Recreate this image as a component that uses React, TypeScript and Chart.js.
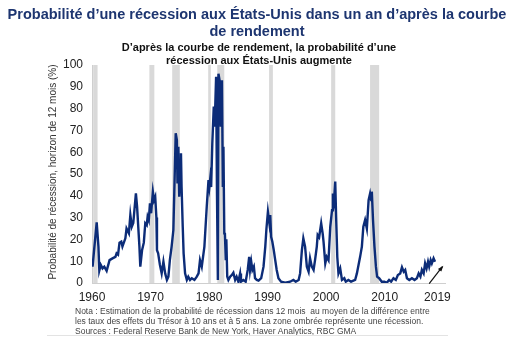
import React, { useEffect, useRef } from "react";
import { Chart, registerables } from "chart.js";

Chart.register(...registerables);

// ---- Data ----
const YEARS = [
  1960.0, 1960.1, 1960.2, 1960.8, 1961.1, 1961.25, 1961.5, 1961.8, 1962.1, 1962.5,
  1963.0, 1963.5, 1964.0, 1964.2, 1964.45, 1964.7, 1965.0, 1965.2, 1965.7, 1965.9,
  1966.3, 1966.55, 1966.8, 1967.05, 1967.5, 1967.7, 1967.85, 1968.1, 1968.25, 1968.55,
  1968.85, 1969.1, 1969.35, 1969.5, 1969.7, 1969.9, 1970.1, 1970.4, 1970.6, 1970.8,
  1971.0, 1971.1, 1971.3, 1971.6, 1971.9, 1972.2, 1972.5, 1972.8, 1973.05, 1973.3,
  1973.6, 1973.9, 1974.05, 1974.3, 1974.5, 1974.6, 1974.75, 1974.9, 1975.05, 1975.2,
  1975.3, 1975.5, 1975.65, 1975.9, 1976.2, 1976.45, 1976.75, 1977.05, 1977.5, 1977.9,
  1978.2, 1978.45, 1978.75, 1979.2, 1979.6, 1979.9, 1980.05, 1980.2, 1980.35, 1980.55,
  1980.8, 1980.95, 1981.2, 1981.35, 1981.5, 1981.6, 1981.8, 1982.0, 1982.2, 1982.35,
  1982.45, 1982.6, 1982.7, 1982.85, 1982.95, 1983.1, 1983.3, 1983.6, 1983.9, 1984.15,
  1984.45, 1984.7, 1985.0, 1985.3, 1985.45, 1985.85, 1986.25, 1986.6, 1986.85, 1987.0,
  1987.2, 1987.4, 1987.65, 1987.85, 1988.15, 1988.45, 1988.9, 1989.3, 1989.6, 1989.8,
  1990.05, 1990.3, 1990.45, 1990.6, 1990.8, 1991.05, 1991.3, 1991.55, 1991.85, 1992.3,
  1993.0, 1993.85, 1994.4, 1994.8, 1995.3, 1995.55, 1995.85, 1996.1, 1996.4, 1996.7,
  1997.0, 1997.25, 1997.55, 1997.85, 1998.1, 1998.4, 1998.55, 1998.8, 1999.15, 1999.4,
  1999.55, 1999.85, 2000.1, 2000.4, 2000.7, 2001.0, 2001.15, 2001.35, 2001.55, 2001.7,
  2001.9, 2002.1, 2002.4, 2002.7, 2003.1, 2003.35, 2003.8, 2004.25, 2004.95, 2005.25,
  2005.8, 2006.1, 2006.35, 2006.65, 2006.95, 2007.25, 2007.5, 2007.7, 2007.8, 2008.0,
  2008.25, 2008.5, 2008.7, 2009.05, 2009.5, 2009.95, 2010.35, 2010.75, 2011.1, 2011.5,
  2011.9, 2012.25, 2012.65, 2012.95, 2013.25, 2013.5, 2013.8, 2014.2, 2014.65, 2015.1,
  2015.5, 2015.8, 2016.1, 2016.35, 2016.65, 2016.9, 2017.15, 2017.4, 2017.6, 2017.85,
  2018.05, 2018.35, 2018.6,
];

const PROBABILITY = [
  10.5, 7.5, 10.5, 27.8, 16.7, 5.7, 8.3, 6.7, 7.5, 5.6,
  10.5, 11.3, 12, 13.6, 13, 18.5, 19, 16.7, 20.5, 25,
  22.8, 31.2, 25.8, 27.5, 41.1, 35, 35, 16.7, 7.5, 15,
  18.5, 27.4, 26.6, 30.4, 28.8, 36.5, 32, 41.9, 38, 39.5,
  30, 15, 13.6, 8.3, 4.4, 9.8, 4.4, 1.4, 2.9, 10.5,
  16.7, 24.3, 41, 68.7, 65.6, 45.7, 62.5, 39.6, 51.8, 59.5,
  44.2, 25.8, 13.6, 4.4, 1.4, 2.9, 1.4, 2.2, 1.4, 2.9,
  4.4, 10.5, 7.5, 16.7, 35, 47.2, 44, 48, 44, 64,
  80.9, 71.7, 94.6, 41, 1.4, 96, 93, 71.7, 93, 44,
  62.5, 22.8, 23, 10.5, 20, 3, 1.4, 2.9, 3.7, 4.7,
  1.4, 2.9, 0.6, 4.4, 0.6, 1.4, 0.6, 6, 12, 6,
  9.8, 6, 7.5, 2.2, 1.4, 1.1, 2.2, 7.5, 16.7, 25,
  32.7, 27.4, 31.2, 21.2, 19, 15.1, 10.5, 6, 2.2, 0.6,
  0.2, 0.6, 1.4, 0.6, 1.4, 4.4, 15, 20.5, 16.7, 7.5,
  5.2, 11.3, 7.5, 6, 10.5, 16.7, 22, 21, 27.4, 22.8,
  19, 9, 12, 10.5, 25.8, 33.4, 41, 38, 46.5, 30.4,
  12, 4.4, 6.7, 1.4, 2.2, 0.6, 1.4, 0.6, 1.4, 4.4,
  12, 16.7, 25.8, 28.9, 25, 38, 41, 38, 41.9, 29,
  16.7, 7.5, 2.9, 2.2, 0.6, 0.6, 0.1, 1.4, 0.6, 2.2,
  1.4, 3.7, 4.4, 7.2, 5.2, 6, 2.2, 1.4, 2.2, 1.4,
  2.2, 4.4, 2.9, 6, 4.4, 9, 6.7, 9.8, 7.5, 10.5,
  9, 11.3, 9.8,
];

// Recession periods (shaded)
const RECESSION_START = [1960.2, 1969.8, 1973.7, 1979.85, 1981.4, 1990.25, 2000.85, 2007.5];
const RECESSION_END = [1960.95, 1970.65, 1975.0, 1980.3, 1982.6, 1990.9, 2001.55, 2009.05];

const X_TICKS = [1960, 1970, 1980, 1990, 2000, 2010, 2019];
const X_MIN = 1960;
const X_MAX = 2020.3;
const Y_MIN = 0;
const Y_MAX = 100;
const Y_STEP = 10;

// Arrow annotation (data coordinates: [year, value])
const ARROW_FROM = [2017.6, -0.3];
const ARROW_TO = [2019.85, 7.5];

const TITLE_LINES = [
  "Probabilité d’une récession aux États-Unis dans un an d’après la courbe",
  "de rendement",
];
const SUBTITLE_LINES = [
  "D’après la courbe de rendement, la probabilité d’une",
  "récession aux États-Unis augmente",
];
const Y_TITLE = "Probabilité de récession, horizon de 12 mois (%)";
const NOTE_LINES = [
  "Nota : Estimation de la probabilité de récession dans 12 mois  au moyen de la différence entre",
  "les taux des effets du Trésor à 10 ans et à 5 ans. La zone ombrée représente une récession.",
  "Sources : Federal Reserve Bank de New York, Haver Analytics, RBC GMA",
];

const FONT = '"Liberation Sans", Arial, Helvetica, sans-serif';
const LINE_COLOR = "#0c2c78";
const TITLE_COLOR = "#1d3570";
const SHADE_COLOR = "#d9d9d9";

const decorPlugin = {
  id: "decor",
  beforeDatasetsDraw(chart: any) {
    const { ctx, chartArea, scales } = chart;
    const xs = scales.x;
    ctx.save();
    ctx.fillStyle = SHADE_COLOR;
    for (let i = 0; i < RECESSION_START.length; i++) {
      const x0 = xs.getPixelForValue(RECESSION_START[i]);
      const x1 = xs.getPixelForValue(RECESSION_END[i]);
      ctx.fillRect(x0, chartArea.top, x1 - x0, chartArea.bottom - chartArea.top);
    }
    ctx.restore();
  },
  afterDraw(chart: any) {
    const { ctx, chartArea, scales } = chart;
    ctx.save();
    // Title
    ctx.fillStyle = TITLE_COLOR;
    ctx.font = `bold 14.5px ${FONT}`;
    ctx.textAlign = "center";
    ctx.textBaseline = "middle";
    ctx.fillText(TITLE_LINES[0], 257, 15);
    ctx.fillText(TITLE_LINES[1], 257, 32);
    // Subtitle
    ctx.fillStyle = "#111111";
    ctx.font = `bold 11px ${FONT}`;
    ctx.fillText(SUBTITLE_LINES[0], 259, 48);
    ctx.fillText(SUBTITLE_LINES[1], 259, 61);
    // Y-axis title
    ctx.save();
    ctx.translate(53, (chartArea.top + chartArea.bottom) / 2 - 2);
    ctx.rotate(-Math.PI / 2);
    ctx.fillStyle = "#333333";
    ctx.font = `10px ${FONT}`;
    ctx.fillText(Y_TITLE, 0, 0);
    ctx.restore();
    // Notes
    ctx.fillStyle = "#444444";
    ctx.font = `8.5px ${FONT}`;
    ctx.textAlign = "left";
    NOTE_LINES.forEach((t, i) => ctx.fillText(t, 75, 312 + i * 10));
    // Rule under notes
    ctx.strokeStyle = "#e3e3e3";
    ctx.lineWidth = 1;
    ctx.beginPath();
    ctx.moveTo(47, 335.5);
    ctx.lineTo(448, 335.5);
    ctx.stroke();
    // Arrow
    const ax0 = scales.x.getPixelForValue(ARROW_FROM[0]);
    const ay0 = scales.y.getPixelForValue(ARROW_FROM[1]);
    const ax1 = scales.x.getPixelForValue(ARROW_TO[0]);
    const ay1 = scales.y.getPixelForValue(ARROW_TO[1]);
    ctx.strokeStyle = "#111111";
    ctx.fillStyle = "#111111";
    ctx.lineWidth = 1.2;
    ctx.beginPath();
    ctx.moveTo(ax0, ay0);
    ctx.lineTo(ax1, ay1);
    ctx.stroke();
    const ang = Math.atan2(ay1 - ay0, ax1 - ax0);
    const hl = 5;
    ctx.beginPath();
    ctx.moveTo(ax1 + 1, ay1 - 1);
    ctx.lineTo(ax1 - hl * Math.cos(ang - 0.45), ay1 - hl * Math.sin(ang - 0.45));
    ctx.lineTo(ax1 - hl * Math.cos(ang + 0.45), ay1 - hl * Math.sin(ang + 0.45));
    ctx.closePath();
    ctx.fill();
    ctx.restore();
  },
};

export default function App() {
  const canvasRef = useRef<HTMLCanvasElement | null>(null);

  useEffect(() => {
    const canvas = canvasRef.current;
    if (!canvas) return;
    const data = YEARS.map((x, i) => ({ x, y: PROBABILITY[i] }));
    const chart = new Chart(canvas, {
      type: "line",
      data: {
        datasets: [
          {
            data,
            borderColor: LINE_COLOR,
            borderWidth: 2.4,
            pointRadius: 0,
            tension: 0,
            fill: false,
          },
        ],
      },
      options: {
        responsive: false,
        animation: false,
        devicePixelRatio: 1,
        layout: { padding: { top: 65, right: 75, left: 0, bottom: 49 } },
        plugins: {
          legend: { display: false },
          tooltip: { enabled: false },
          title: { display: false },
        },
        scales: {
          x: {
            type: "linear",
            min: X_MIN,
            max: X_MAX,
            grid: { display: false, drawTicks: false },
            border: { display: true, color: "#cfcfcf", width: 1 },
            afterBuildTicks: (scale: any) => {
              scale.ticks = X_TICKS.map((v) => ({ value: v }));
            },
            afterFit: (scale: any) => {
              scale.height = 20;
            },
            ticks: {
              autoSkip: false,
              maxRotation: 0,
              padding: 7,
              color: "#222222",
              font: { family: FONT, size: 12 },
              callback: (v: any) => String(v),
            },
          },
          y: {
            min: Y_MIN,
            max: Y_MAX,
            grid: { display: false, drawTicks: false },
            border: { display: true, color: "#cfcfcf", width: 1 },
            afterFit: (scale: any) => {
              scale.width = 92;
            },
            ticks: {
              stepSize: Y_STEP,
              padding: 9,
              color: "#222222",
              font: { family: FONT, size: 12 },
            },
          },
        },
      },
      plugins: [decorPlugin],
    });
    return () => chart.destroy();
  }, []);

  return (
    <div style={{ position: "absolute", left: 0, top: 0, width: 520, height: 352, background: "#ffffff" }}>
      <canvas ref={canvasRef} width={520} height={352} style={{ width: 520, height: 352, display: "block" }} />
    </div>
  );
}
